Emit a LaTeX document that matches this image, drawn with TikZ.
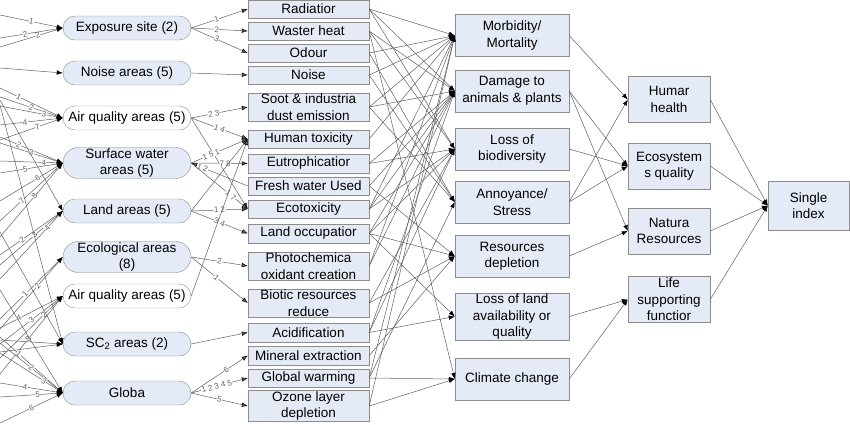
\documentclass[tikz,border=0pt]{standalone}
\usepackage{fontspec}
\setmainfont{Liberation Sans}
\usetikzlibrary{arrows.meta,shapes.misc,positioning}
\definecolor{boxfill}{RGB}{228,234,246}
\definecolor{boxline}{RGB}{140,140,140}
\definecolor{linkgray}{RGB}{95,95,95}
\tikzset{
     box font/.style={font=\fontsize{13.5}{16.5}\selectfont},
     area node/.style={rounded rectangle, draw=boxline, fill=boxfill, box font,
        minimum width=130pt, minimum height=24pt, inner sep=1pt, align=center},
     air node/.style={area node, fill=white},
     impact node/.style={rectangle, draw=boxline, fill=boxfill, box font,
        minimum width=121pt, minimum height=18.5pt, inner sep=1pt, align=center},
     effect node/.style={impact node, minimum width=114pt, minimum height=42pt},
     damage node/.style={impact node, minimum width=82pt, minimum height=46pt},
     link/.style={linkgray, line width=0.5pt, -{Latex[length=6pt,width=4.5pt,color=black]}},
     num/.style={font=\fontsize{8}{8}\selectfont, fill=white, inner sep=0.3pt, sloped},
    }
\begin{document}
\begin{tikzpicture}[x=1pt,y=-1pt]
    \useasboundingbox (0,0) rectangle (850,424);
    % areas
    \node [area node] (e1) at (127,28)  {Exposure site (2)};
    \node [area node] (e2) at (127,73)  {Noise areas (5)};
    \node [air node]  (e3) at (127,118) {Air quality areas (5)};
    \node [area node] (e4) at (127,163) {Surface water\\areas (5)};
    \node [area node] (e5) at (127,211) {Land areas (5)};
    \node [area node] (e6) at (127,257) {Ecological areas\\(8)};
    \node [air node]  (e7) at (127,296) {Air quality areas (5)};
    \node [area node] (e8) at (127,344) {SC\textsubscript{2} areas (2)};
    \node [area node] (e9) at (127,393) {Globa};
    % impact categories
    \node [impact node] (i1)  at (308.5,9)     {Radiatior};
    \node [impact node] (i2)  at (308.5,31)    {Waster heat};
    \node [impact node] (i3)  at (308.5,53)    {Odour};
    \node [impact node] (i4)  at (308.5,75)    {Noise};
    \node [impact node] (i5)  at (308.5,107)   {Soot \& industria\\dust emission};
    \node [impact node] (i6)  at (308.5,139)   {Human toxicity};
    \node [impact node] (i7)  at (308.5,163.5) {Eutrophicatior};
    \node [impact node] (i8)  at (308.5,186)   {Fresh water Used};
    \node [impact node] (i9)  at (308.5,209)   {Ecotoxicity};
    \node [impact node] (i10) at (308.5,233.5) {Land occupatior};
    \node [impact node] (i11) at (308.5,266)   {Photochemica\\oxidant creation};
    \node [impact node] (i12) at (308.5,303)   {Biotic resources\\reduce};
    \node [impact node] (i13) at (308.5,332.5) {Acidification};
    \node [impact node] (i14) at (308.5,355.5) {Mineral extraction};
    \node [impact node] (i15) at (308.5,378)   {Global warming};
    \node [impact node] (i16) at (308.5,406)   {Ozone layer\\depletion};
    % effects
    \node [effect node] (m1) at (512,35.5)  {Morbidity/\\Mortality};
    \node [effect node] (m2) at (512,91)    {Damage to\\animals \& plants};
    \node [effect node] (m3) at (512,149)   {Loss of\\biodiversity};
    \node [effect node] (m4) at (512,202)   {Annoyance/\\Stress};
    \node [effect node] (m5) at (512,256)   {Resources\\depletion};
    \node [effect node] (m6) at (512,316.5) {Loss of land\\availability or\\quality};
    \node [effect node] (m7) at (512,379)   {Climate change};
    % damages
    \node [damage node] (d1) at (669,99.5)  {Humar\\health};
    \node [damage node] (d2) at (669,166)   {Ecosystem\\s quality};
    \node [damage node] (d3) at (669,231)   {Natura\\Resources};
    \node [damage node] (d4) at (669,299.5) {Life\\supporting\\functior};
    \node [damage node, minimum width=81pt, minimum height=49pt] (si) at (808.5,205.5) {Single\\index};

    % incoming from the left edge
    \foreach \y/\t/\n/\p [count=\k] in {15/e1/1/.5, 38/e1/2/.4, 47/e1/2/.6,
        88/e3/1/.3, 97/e3/2/.5, 106/e3/3/.7, 125/e3/4/.4, 140/e3/7/.6,
        137/e4/2/.3, 143/e4/3/.5, 161/e4/4/.7, 173/e4/5/.4, 201/e4/6/.6,
        221/e4/7/.35, 237/e4/8/.55,
        255/e5/2/.35, 265/e5/3/.55, 279/e5/4/.75, 319/e6/1/.4, 329/e6/2/.6,
        328/e7/4/.3, 344/e7/3/.5, 358/e7/2/.7, 374/e7/8/.45,
        337/e9/1/.3, 343/e9/2/.5, 353/e9/3/.7, 383/e9/4/.4, 397/e9/5/.6, 423/e9/6/.5} {
        \coordinate (l\k) at (0,\y);
        \draw [link] (l\k) -- node [num, pos=\p] {\n} (\t.west);
    }
    \foreach \y/\t [count=\k] in {68/e2, 100/e5, 105/e8, 232/e8, 340/e8, 352/e8, 290/e9} {
        \coordinate (u\k) at (0,\y);
        \draw [link] (u\k) -- (\t.west);
    }

    % areas to impact categories
    \path [link]
        (e1.east) edge node [num, pos=.45] {1} (i1.west)
        (e1.east) edge node [num, pos=.45] {2} (i2.west)
        (e1.east) edge node [num, pos=.45] {3} (i3.west)
        (e2.east) edge (i4.west)
        (e3.east) edge node [num, pos=.4] {2 3} (i5.west)
        (e3.east) edge node [num, pos=.5] {1 4} (i6.west)
        (e3.east) edge (i9.west)
        (e4.east) edge node [num, pos=.35] {1 5 1} (i6.west)
        (e4.east) edge node [num, pos=.6] {7 8} (i7.west)
        (i8.west) edge node [num, pos=.8] {1 2} (e4.east)
        (e4.east) edge node [num, pos=.7] {1 7} (i9.west)
        (e5.east) edge (i6.west)
        (e5.east) edge node [num, pos=.5] {1 2} (i9.west)
        (e5.east) edge node [num, pos=.5] {3 4} (i10.west)
        (e6.east) edge node [num, pos=.5] {2} (i11.west)
        (e6.east) edge node [num, pos=.45] {1} (i12.west)
        (e7.east) edge (i6.west)
        (e8.east) edge (i13.west)
        (e9.east) edge node [num, pos=.62] {6} (i14.west)
        (e9.east) edge node [num, pos=.45] {1 2 3 4 5} (i15.west)
        (e9.east) edge node [num, pos=.5] {5} (i16.west);

    % impact categories to effects
    \foreach \s/\t in {i1/m1, i1/m2, i1/m3, i2/m2, i2/m3, i2/m7, i3/m4, i3/m1,
        i4/m1, i4/m4, i5/m1, i5/m2, i5/m4, i6/m1, i7/m2, i7/m3, i8/m5, i8/m2,
        i9/m2, i9/m3, i9/m1, i10/m3, i10/m5, i10/m6, i10/m2, i11/m1, i11/m2,
        i12/m5, i12/m3, i13/m6, i13/m2, i13/m3, i14/m5, i15/m7, i15/m1, i15/m4,
        i16/m7, i16/m1}
        \draw [link] (\s.east) -- (\t.west);

    % effects to damages, damages to index
    \foreach \s/\t in {m1/d1, m2/d2, m2/d3, m3/d2, m4/d1, m4/d2, m5/d3, m6/d4, m7/d4,
        d1/si, d2/si, d3/si, d4/si}
        \draw [link] (\s.east) -- (\t.west);
\end{tikzpicture}
\end{document}
